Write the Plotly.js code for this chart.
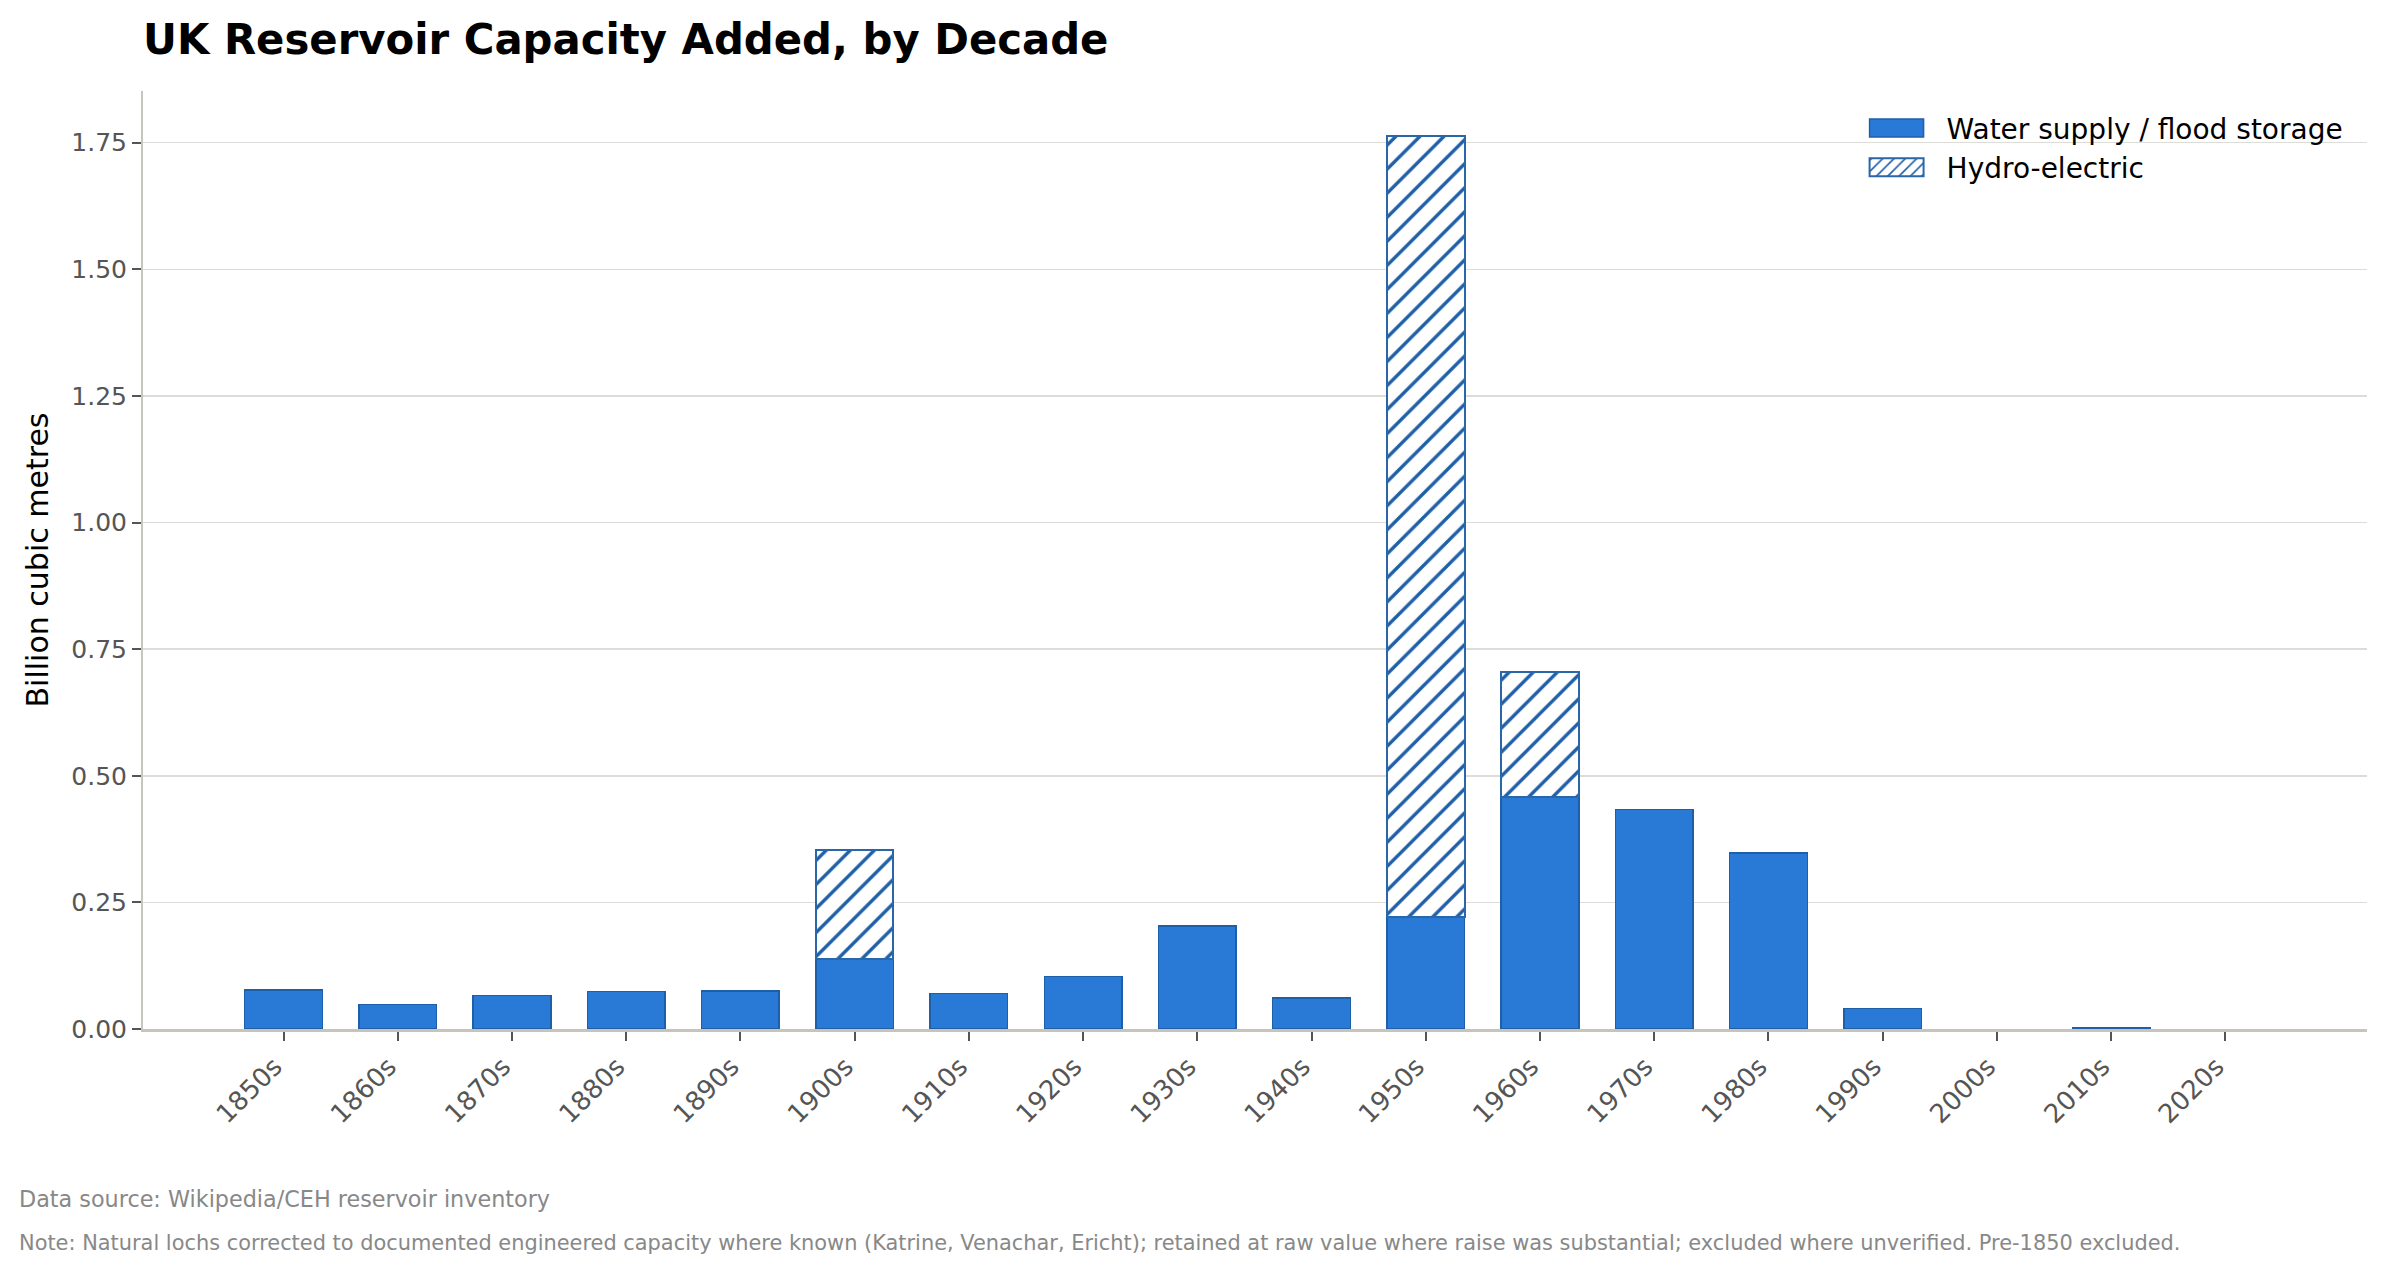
<!DOCTYPE html>
<html>
<head>
<meta charset="utf-8">
<script src="https://cdn.plot.ly/plotly-3.0.1.min.js"></script>
<style>
  html, body { margin: 0; padding: 0; background: white; }
  #chart { width: 2386px; height: 1274px; }
</style>
</head>
<body>
<div id="chart"></div>
<script>
// capacity added per decade, billion cubic metres
var decades = ['1850s', '1860s', '1870s', '1880s', '1890s', '1900s', '1910s', '1920s', '1930s',
  '1940s', '1950s', '1960s', '1970s', '1980s', '1990s', '2000s', '2010s', '2020s'];
var waterSupply = [0.077, 0.048, 0.066, 0.074, 0.075, 0.138, 0.070, 0.104, 0.203,
  0.061, 0.221, 0.458, 0.433, 0.348, 0.040, null, 0.002, null];
var hydroElectric = [null, null, null, null, null, 0.216, null, null, null,
  null, 1.543, 0.246, null, null, null, null, null, null];
var yTicks = [0, 0.25, 0.5, 0.75, 1.0, 1.25, 1.5, 1.75];

var font = 'DejaVu Sans, sans-serif';

var water = {
  type: 'bar',
  name: 'Water supply / flood storage',
  legendgroup: 'water',
  x: decades,
  y: waterSupply,
  width: 0.68,
  marker: {
    color: '#2979d6',
    line: { color: '#1f5fa8', width: 1.5 }
  },
  hoverinfo: 'x+y'
};

var hydro = {
  type: 'bar',
  name: 'Hydro-electric',
  legendgroup: 'hydro',
  x: decades,
  y: hydroElectric,
  width: 0.68,
  marker: {
    color: 'white',
    line: { color: '#2a66aa', width: 2 },
    pattern: { shape: '/', fgcolor: '#1f5fa8', bgcolor: 'white', size: 17, solidity: 0.2 }
  },
  hoverinfo: 'x+y'
};

var layout = {
  width: 2386,
  height: 1274,
  barmode: 'stack',
  paper_bgcolor: 'white',
  plot_bgcolor: 'white',
  font: { family: font, size: 25, color: '#555555' },
  margin: { l: 143, r: 19, t: 91, b: 245 },
  title: {
    text: '<b>UK Reservoir Capacity Added, by Decade</b>',
    font: { family: font, size: 41.8, color: '#000000' },
    xref: 'paper', x: 0, xanchor: 'left',
    yref: 'container', y: 0.969, yanchor: 'middle'
  },
  xaxis: {
    type: 'category',
    range: [-1.23, 18.24],
    showgrid: false,
    zeroline: false,
    showline: true,
    linecolor: '#c8c4ba',
    linewidth: 3,
    ticks: 'outside',
    ticklen: 9,
    tickwidth: 2,
    tickcolor: '#555555',
    tickangle: -45,
    ticklabelshift: -9,
    tickfont: { family: font, size: 26, color: '#555555' }
  },
  yaxis: {
    range: [0, 1.852],
    tickvals: yTicks,
    tickformat: '.2f',
    showgrid: true,
    gridcolor: '#dcdcd8',
    gridwidth: 1.5,
    zeroline: false,
    showline: true,
    linecolor: '#c8c6bc',
    linewidth: 2,
    ticks: 'outside',
    ticklen: 9,
    tickwidth: 2,
    tickcolor: '#555555',
    tickfont: { family: font, size: 25, color: '#555555' },
    title: {
      text: 'Billion cubic metres',
      font: { family: font, size: 30, color: '#000000' },
      standoff: 14
    }
  },
  legend: {
    x: 0.766, xanchor: 'left',
    y: 0.987, yanchor: 'top',
    bgcolor: 'rgba(255,255,255,0)',
    font: { family: font, size: 28, color: '#000000' },
    itemwidth: 90,
    tracegroupgap: 13,
    traceorder: 'normal'
  },
  showlegend: true,
  annotations: [
    {
      text: 'Data source: Wikipedia/CEH reservoir inventory',
      xref: 'paper', yref: 'paper',
      x: -0.0567, y: -0.1812,
      xanchor: 'left', yanchor: 'middle',
      showarrow: false,
      font: { family: font, size: 22.3, color: '#888888' }
    },
    {
      text: 'Note: Natural lochs corrected to documented engineered capacity where known (Katrine, Venachar, Ericht); retained at raw value where raise was substantial; excluded where unverified. Pre-1850 excluded.',
      xref: 'paper', yref: 'paper',
      x: -0.0567, y: -0.2281,
      xanchor: 'left', yanchor: 'middle',
      showarrow: false,
      font: { family: font, size: 20.9, color: '#888888' }
    }
  ]
};

Plotly.newPlot('chart', [water, hydro], layout, { displayModeBar: false, staticPlot: true })
  .then(function (gd) {
    // widen the legend swatches into flat rectangles
    gd.querySelectorAll('.legend .legendpoints path').forEach(function (p) {
      p.setAttribute('d', 'M27,9H-27V-9H27Z');
    });
  });
</script>
</body>
</html>
